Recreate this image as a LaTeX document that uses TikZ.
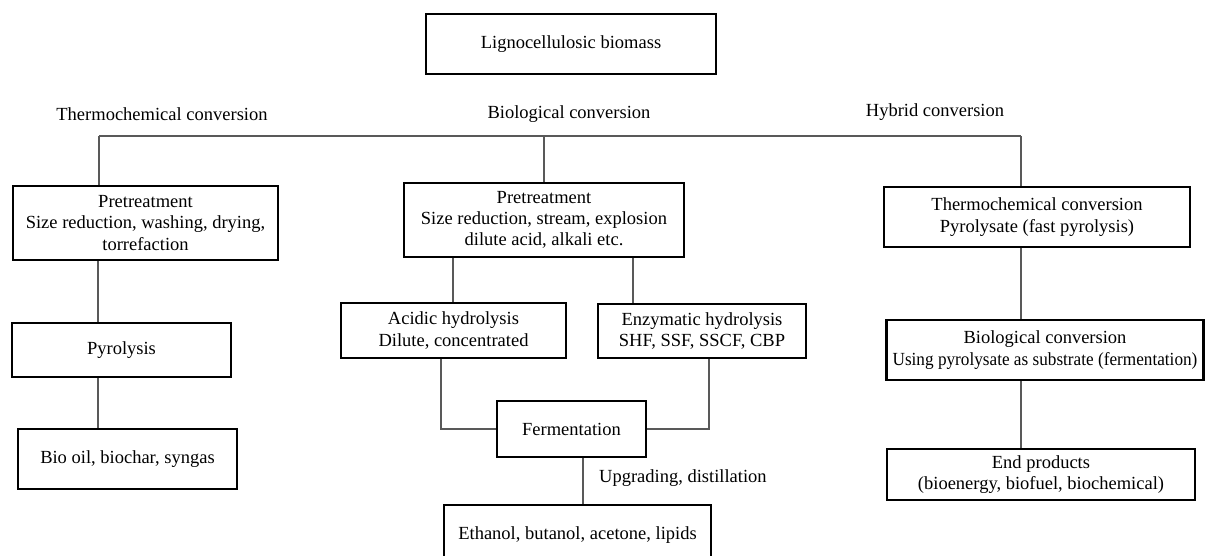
\documentclass[tikz,border=0pt]{standalone}
\usepackage{graphicx}
\usepackage{fontspec}
\setmainfont{Liberation Serif}
\newcommand\dfs{\fontsize{18.5}{21.3}\selectfont}
\begin{document}
\begin{tikzpicture}[x=1pt,y=-1pt,
  box/.style={draw=black, line width=2.8pt, align=center, inner sep=0pt, font=\dfs},
  lbl/.style={align=center, inner sep=0pt, font=\dfs},
  conn/.style={draw=black!65, line width=1.2pt}]
\clip (0,0) rectangle (1205,555);
\fill[white] (0,0) rectangle (1205,555);
% boxes
\node[box, minimum width=290pt, minimum height=60pt] (top) at (571,44) {Lignocellulosic biomass};
\node[lbl] (lt) at (162,114) {Thermochemical conversion};
\node[lbl] (lb) at (569,114) {Biological conversion};
\node[lbl] (lh) at (935,112) {Hybrid conversion};
\node[box, minimum width=265pt, minimum height=74pt] (lp) at (145.5,223) {Pretreatment\\Size reduction, washing, drying,\\torrefaction};
\node[box, minimum width=280pt, minimum height=74pt] (mp) at (544,220) {Pretreatment\\Size reduction, stream, explosion\\dilute acid, alkali etc.};
\node[box, minimum width=306pt, minimum height=60pt] (rt) at (1037,217) {Thermochemical conversion\\Pyrolysate (fast pyrolysis)};
\node[box, minimum width=219pt, minimum height=54pt] (pyr) at (121.5,350) {Pyrolysis};
\node[box, minimum width=219pt, minimum height=60pt] (bio) at (127.5,459) {Bio oil, biochar, syngas};
\node[box, minimum width=225pt, minimum height=55pt] (acid) at (453.5,330.5) {Acidic hydrolysis\\Dilute, concentrated};
\node[box, minimum width=208pt, minimum height=54pt] (enz) at (702,331) {Enzymatic hydrolysis\\SHF, SSF, SSCF, CBP};
\node[box, minimum width=149pt, minimum height=56pt] (ferm) at (571.5,429) {Fermentation};
\node[box, minimum width=267pt, minimum height=60pt] (eth) at (577.5,535) {Ethanol, butanol, acetone, lipids};
\node[lbl, anchor=west] (up) at (599,478) {Upgrading, distillation};
\node[box, minimum width=317pt, minimum height=60pt] (rb) at (1045,350) {Biological conversion\\\scalebox{0.93}[1]{Using pyrolysate as substrate (fermentation)}};
\node[box, minimum width=308pt, minimum height=51pt] (end) at (1041,474.5) {End products\\(bioenergy, biofuel, biochemical)};
% junction coordinates
\coordinate (hl) at (99,136);
\coordinate (hm) at (544,136);
\coordinate (hr) at (1021,136);
\coordinate (xa) at (98,0);
\coordinate (xb) at (453,0);
\coordinate (xc) at (633,0);
\coordinate (xd) at (441,0);
\coordinate (xe) at (709,0);
\coordinate (xf) at (583,0);
\coordinate (xg) at (1021,0);
% connectors
\draw[conn] (hl) -- (hr);
\draw[conn] (hl) -- (hl |- lp.north);
\draw[conn] (hm) -- (hm |- mp.north);
\draw[conn] (hr) -- (hr |- rt.north);
\draw[conn] (lp.south -| xa) -- (pyr.north -| xa);
\draw[conn] (pyr.south -| xa) -- (bio.north -| xa);
\draw[conn] (mp.south -| xb) -- (acid.north -| xb);
\draw[conn] (mp.south -| xc) -- (enz.north -| xc);
\draw[conn] (acid.south -| xd) |- (ferm.west);
\draw[conn] (enz.south -| xe) |- (ferm.east);
\draw[conn] (ferm.south -| xf) -- (eth.north -| xf);
\draw[conn] (rt.south -| xg) -- (rb.north -| xg);
\draw[conn] (rb.south -| xg) -- (end.north -| xg);
\end{tikzpicture}
\end{document}
